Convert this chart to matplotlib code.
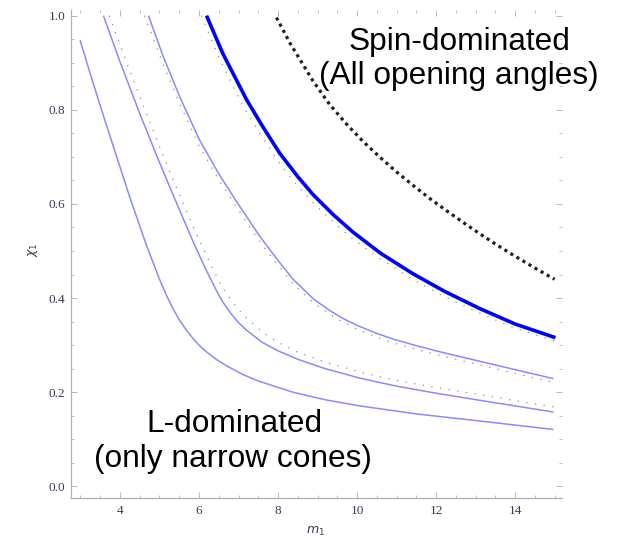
import matplotlib
matplotlib.use("Agg")
import matplotlib.pyplot as plt
from matplotlib.ticker import MultipleLocator

# ---- data ----
# thin blue curve A (leftmost)
a_m = [2.99, 3.30, 3.62, 3.94, 4.25, 4.67, 5.00, 5.18, 5.35, 5.50, 5.68, 5.85, 6.00,
       6.20, 6.45, 6.70, 7.10, 7.50, 8.38, 9.20, 10.07, 11.50, 13.10, 14.97]
a_chi = [0.948, 0.862, 0.777, 0.694, 0.614, 0.512, 0.440, 0.405, 0.376, 0.354, 0.332, 0.314,
         0.300, 0.285, 0.269, 0.256, 0.238, 0.224, 0.200, 0.184, 0.171, 0.154, 0.139, 0.121]
# thin blue curve B
b_m = [3.58, 4.00, 4.50, 5.00, 5.35, 5.85, 6.15, 6.44, 6.60, 6.80, 7.00, 7.20, 7.60,
       8.00, 8.50, 9.20, 10.07, 11.00, 12.00, 13.10, 14.00, 14.97]
b_chi = [1.0, 0.902, 0.792, 0.688, 0.618, 0.520, 0.465, 0.416, 0.392, 0.368, 0.348, 0.332,
         0.306, 0.288, 0.270, 0.250, 0.230, 0.213, 0.198, 0.183, 0.171, 0.158]
# thin blue curve C
c_m = [4.72, 5.10, 5.52, 6.00, 6.50, 6.95, 7.54, 8.00, 8.38, 8.90, 9.30, 9.64,
       10.00, 10.50, 10.91, 11.50, 12.00, 12.59, 13.10, 14.00, 14.97]
c_chi = [1.0, 0.912, 0.826, 0.738, 0.664, 0.605, 0.531, 0.480, 0.440, 0.398, 0.374, 0.357,
         0.342, 0.325, 0.313, 0.299, 0.288, 0.276, 0.266, 0.248, 0.229]
# thick blue curve
t_m = [6.19, 6.60, 7.20, 7.60, 8.04, 8.50, 8.885, 9.40, 9.90, 10.60, 11.41, 12.20,
       13.10, 14.00, 15.02]
t_chi = [1.0, 0.920, 0.822, 0.766, 0.708, 0.658, 0.620, 0.577, 0.540, 0.495, 0.452, 0.415,
         0.378, 0.345, 0.316]
# grey dotted companions
d1_m = [3.73, 4.00, 4.50, 5.00, 5.35, 5.85, 6.15, 6.44, 6.60, 6.80, 7.00, 7.20, 7.60,
        8.00, 8.50, 9.20, 10.07, 11.00, 12.00, 13.10, 14.00, 14.97]
d1_chi = [1.0, 0.938, 0.828, 0.722, 0.650, 0.552, 0.497, 0.447, 0.421, 0.398, 0.376, 0.358,
          0.328, 0.306, 0.285, 0.264, 0.243, 0.225, 0.210, 0.195, 0.182, 0.169]
d2_m = [4.62, 5.10, 5.52, 6.00, 6.50, 6.95, 7.54, 8.00, 8.38, 8.90, 9.30, 9.64,
        10.00, 10.50, 10.91, 11.50, 12.00, 12.59, 13.10, 14.00, 14.97]
d2_chi = [1.0, 0.895, 0.811, 0.724, 0.651, 0.593, 0.520, 0.470, 0.431, 0.390, 0.366, 0.349,
          0.334, 0.317, 0.305, 0.291, 0.280, 0.268, 0.258, 0.240, 0.221]
d3_m = [6.06, 6.50, 7.10, 7.50, 7.95, 8.40, 8.80, 9.30, 9.80, 10.50, 11.30, 12.10,
        13.00, 13.90, 15.00]
d3_chi = [1.0, 0.912, 0.810, 0.755, 0.697, 0.648, 0.610, 0.569, 0.532, 0.488, 0.445, 0.408,
          0.372, 0.339, 0.309]
# black dotted boundary
s_m = [7.96, 8.30, 8.88, 9.30, 9.73, 10.15, 10.57, 11.00, 11.41, 11.85, 12.26, 12.70,
       13.10, 13.50, 13.94, 14.50, 15.00]
s_chi = [0.996, 0.942, 0.862, 0.812, 0.770, 0.733, 0.700, 0.668, 0.640, 0.611, 0.586, 0.560,
         0.537, 0.515, 0.492, 0.464, 0.440]

x_ticks = [4, 6, 8, 10, 12, 14]
y_ticks = [0.0, 0.2, 0.4, 0.6, 0.8, 1.0]

W, H = 620, 539
fig = plt.figure(figsize=(W / 100, H / 100), dpi=100)
L, R, B, T = 71, 561.7, 497.7, 10
ax = fig.add_axes([L / W, 1 - B / H, (R - L) / W, (B - T) / H])

thin = dict(color="#8a8aff", lw=1.1, solid_capstyle="butt", solid_joinstyle="round")
grey = dict(color="#8c8c8c", lw=0.9, dashes=(1, 6))
ax.plot(d1_m, d1_chi, **grey)
ax.plot(d2_m, d2_chi, **grey)
ax.plot(d3_m, d3_chi, **grey)
ax.plot(a_m, a_chi, **thin)
ax.plot(b_m, b_chi, **thin)
ax.plot(c_m, c_chi, **thin)
ax.plot(t_m, t_chi, color="#0000ff", lw=2.6, solid_capstyle="butt", solid_joinstyle="round")
ax.plot(s_m, s_chi, color="#202020", lw=2.3, dashes=(1, 1.2), dash_capstyle="butt")

ax.set_xlim(2.76, 15.18)
ax.set_ylim(-0.024, 1.012)
ax.set_xticks(x_ticks)
ax.set_yticks(y_ticks)
ax.set_xticklabels([str(v) for v in x_ticks])
ax.set_yticklabels([f"{v:.1f}" for v in y_ticks])
ax.xaxis.set_minor_locator(MultipleLocator(0.5))
ax.yaxis.set_minor_locator(MultipleLocator(0.05))

for s in ["top", "right"]:
    ax.spines[s].set_visible(False)
for s in ["left", "bottom"]:
    ax.spines[s].set_color("#b0b0b0")
    ax.spines[s].set_linewidth(0.9)

ax.tick_params(which="both", direction="in", color="#b8b8b8", top=True, right=True,
               labelcolor="#3a3a5a")
ax.tick_params(which="major", length=4.5, width=0.7)
ax.tick_params(which="minor", length=2.2, width=0.6)
ax.tick_params(axis="x", pad=5.5)
ax.tick_params(axis="y", pad=4.0)
for lab in ax.get_xticklabels() + ax.get_yticklabels():
    lab.set_fontfamily("Liberation Serif")
    lab.set_fontsize(9.5)

fig.text(315 / W, 1 - 531 / H, r"$m_1$", ha="center", va="center", fontsize=9,
         color="#3a3a5a", family="Liberation Serif")
fig.text(33 / W, 1 - 250 / H, r"$\chi_1$", ha="center", va="center", fontsize=9,
         rotation=90, color="#3a3a5a", family="Liberation Serif")

txt = dict(family="Liberation Sans", fontsize=22.8, color="black", ha="center", va="baseline")
fig.text(459 / W, 1 - 50 / H, "Spin-dominated", **txt)
fig.text(459 / W, 1 - 84 / H, "(All opening angles)", **txt)
fig.text(234 / W, 1 - 431.7 / H, "L-dominated", **txt)
fig.text(233 / W, 1 - 466.7 / H, "(only narrow cones)", **txt)

fig.savefig("out.png", dpi=100)
